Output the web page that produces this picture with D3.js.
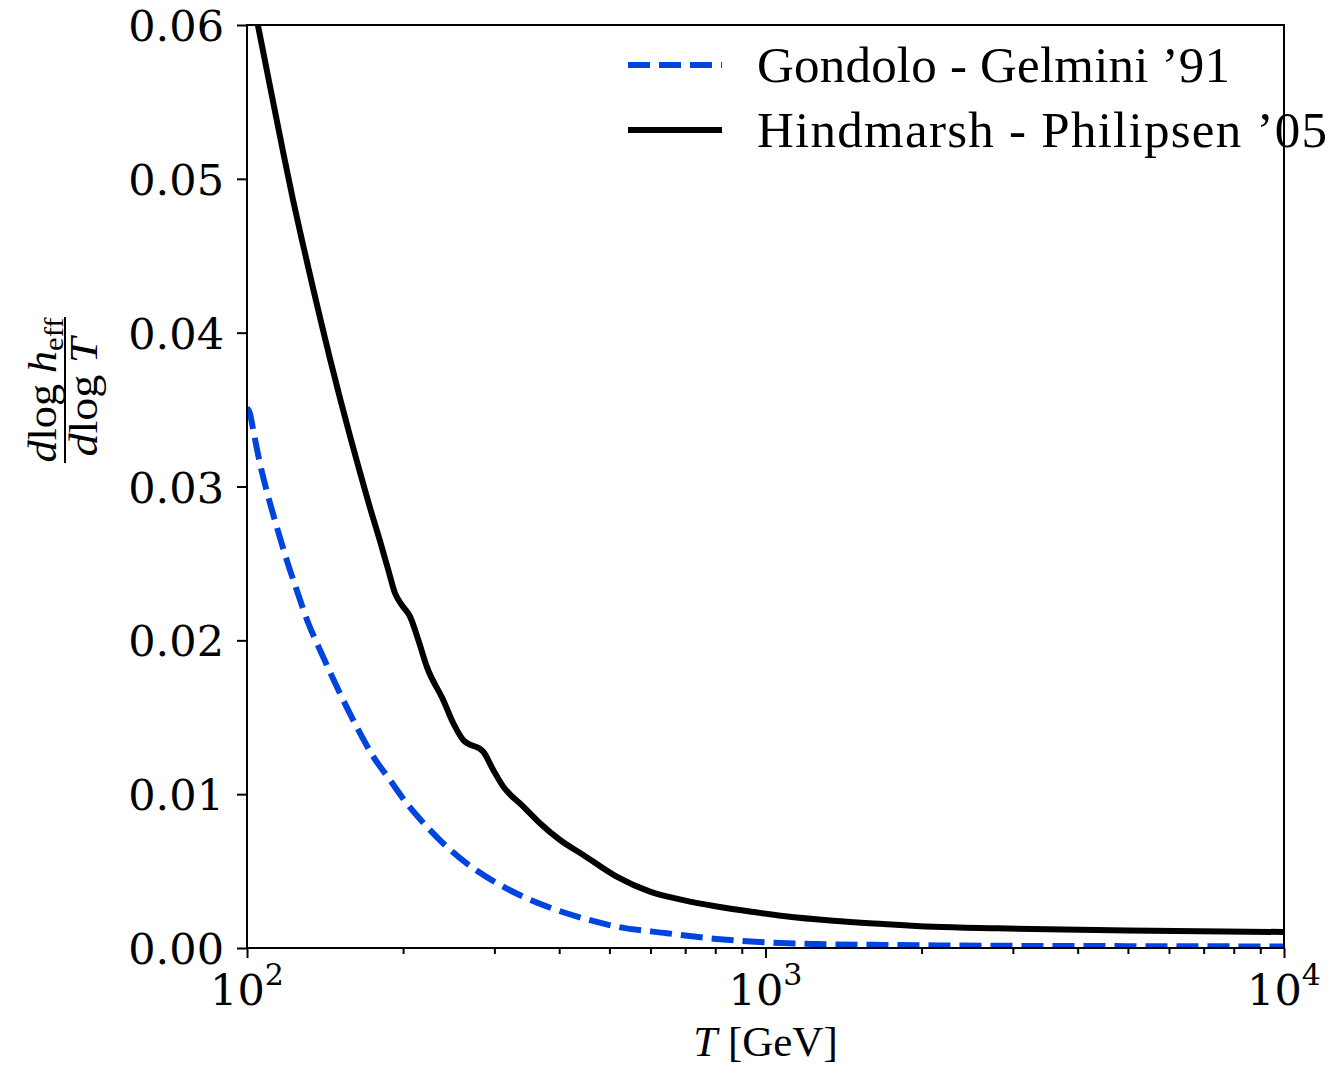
<!DOCTYPE html>
<html>
<head>
<meta charset="utf-8">
<script src="https://cdn.jsdelivr.net/npm/d3@7"></script>
<style>
  body { margin: 0; background: #fff; }
  svg { display: block; }
</style>
</head>
<body>
<div id="grafico"></div>
<script>
// Hindmarsh - Philipsen '05 (solid black)
const hindT = [100, 105.1, 112.4, 117.5, 122.8, 128.4, 134.2, 139.4, 144.6, 151.1, 158.0, 163.9, 171.4, 180.5, 187.3, 193.0, 198.8, 206.3, 214.0, 222.2, 239.0, 250.0, 261.3, 285.6, 298.5, 312.1, 341.2, 367.3, 401.6, 445.3, 516.4, 598.8, 694.2, 805.2, 933.4, 1082, 1351, 1687, 2107, 2792, 5000, 10000];
const hindV = [0.0636, 0.05989, 0.05493, 0.05168, 0.04856, 0.04564, 0.04284, 0.04050, 0.03829, 0.03575, 0.03328, 0.03133, 0.02899, 0.02646, 0.02457, 0.02306, 0.0223, 0.02154, 0.02002, 0.01829, 0.01612, 0.01461, 0.01352, 0.01276, 0.01157, 0.01049, 0.00919, 0.00811, 0.00702, 0.00605, 0.00464, 0.00366, 0.00311, 0.0027, 0.00237, 0.00208, 0.00177, 0.00156, 0.00138, 0.00128, 0.00114, 0.00104];

// Gondolo - Gelmini '91 (dashed blue)
const gondT = [100, 101.3, 102.8, 105.9, 109.9, 114.1, 119.3, 124.7, 131.3, 138.3, 151.1, 162.7, 175.2, 188.7, 203.2, 222.2, 242.7, 273.3, 307.6, 346.3, 395.7, 445.3, 516.4, 644.9, 805.2, 1005, 1255, 1687, 2627, 5000, 10000];
const gondV = [0.0351, 0.03476, 0.03367, 0.03151, 0.02934, 0.02739, 0.02522, 0.02327, 0.02111, 0.01937, 0.01656, 0.01439, 0.01244, 0.01092, 0.00941, 0.00789, 0.00659, 0.00518, 0.00410, 0.00323, 0.00247, 0.00193, 0.00139, 0.00096, 0.00059, 0.00037, 0.00026, 0.0002, 0.00015, 0.00012, 0.0001];

const yTicks = [0, 0.01, 0.02, 0.03, 0.04, 0.05, 0.06];
const xTicks = [100, 1000, 10000];
const xMinor = [200, 300, 400, 500, 600, 700, 800, 900, 2000, 3000, 4000, 5000, 6000, 7000, 8000, 9000];
const legendNames = ["Gondolo - Gelmini \u201991", "Hindmarsh - Philipsen \u201905"];

const svgWidth = 1337, svgHeight = 1068;
const margin = { top: 25, right: 53, bottom: 120, left: 247 };
const width = svgWidth - margin.left - margin.right;
const height = svgHeight - margin.top - margin.bottom;

const svg = d3.select("#grafico")
    .append("svg")
    .attr("width", svgWidth)
    .attr("height", svgHeight);

const g = svg.append("g")
    .attr("transform", `translate(${margin.left}, ${margin.top})`);

const x = d3.scaleLog().domain([100, 10000]).range([0, width]);
const y = d3.scaleLinear().domain([0, 0.06]).range([height, 0]);

g.append("clipPath").attr("id", "area")
    .append("rect").attr("width", width).attr("height", height);

// Curvas
const linea = d3.line()
    .x(d => x(d[0]))
    .y(d => y(d[1]))
    .curve(d3.curveMonotoneX);

g.append("path")
    .datum(gondT.map((t, i) => [t, gondV[i]]))
    .attr("clip-path", "url(#area)")
    .attr("d", linea)
    .attr("fill", "none")
    .attr("stroke", "#0044e0")
    .attr("stroke-width", 6)
    .attr("stroke-dasharray", "22,9");

g.append("path")
    .datum(hindT.map((t, i) => [t, hindV[i]]))
    .attr("clip-path", "url(#area)")
    .attr("d", linea)
    .attr("fill", "none")
    .attr("stroke", "#000")
    .attr("stroke-width", 6);

// Ejes
const ejeY = g.append("g")
    .call(d3.axisLeft(y).tickValues(yTicks).tickSize(10).tickPadding(13).tickFormat(d3.format(".2f")));
ejeY.selectAll("text").attr("dy", null).attr("y", 15.5);

g.append("g")
    .attr("transform", `translate(0, ${height})`)
    .call(d3.axisBottom(x).tickValues(xTicks).tickSize(10).tickFormat(""));

g.append("g")
    .attr("transform", `translate(0, ${height})`)
    .call(d3.axisBottom(x).tickValues(xMinor).tickSize(6).tickFormat(""));

g.selectAll(".domain").remove();
g.selectAll(".tick line").attr("stroke", "#000").attr("stroke-width", 2);
ejeY.selectAll("text")
    .style("font-family", "DejaVu Serif")
    .style("font-size", "43px")
    .attr("fill", "#000");

// Etiquetas 10^n
const etiquetasX = g.append("g").attr("transform", `translate(0, ${height})`);
xTicks.forEach(v => {
    const t = etiquetasX.append("text")
        .attr("x", x(v))
        .attr("y", 57)
        .attr("text-anchor", "middle")
        .style("font-family", "DejaVu Serif")
        .style("font-size", "43px")
        .attr("fill", "#000");
    t.append("tspan").text("10");
    t.append("tspan").attr("dy", -20).style("font-size", "30px").text(Math.round(Math.log10(v)));
});

// Marco
g.append("rect")
    .attr("width", width).attr("height", height)
    .attr("fill", "none").attr("stroke", "#000").attr("stroke-width", 2);

// Etiqueta eje X
const lx = svg.append("text")
    .attr("x", margin.left + x(1000))
    .attr("y", 1056)
    .attr("text-anchor", "middle")
    .style("font-family", "Liberation Serif")
    .style("font-size", "43px")
    .attr("fill", "#000");
lx.append("tspan").style("font-style", "italic").text("T");
lx.append("tspan").text(" [GeV]");

// Etiqueta eje Y (fraccion)
const ly = svg.append("g")
    .attr("transform", "translate(65, 390) rotate(-90)")
    .style("font-family", "Liberation Serif")
    .attr("fill", "#000");

const num = ly.append("text").attr("x", 0).attr("y", -9).attr("text-anchor", "middle")
    .attr("textLength", 145).attr("lengthAdjust", "spacingAndGlyphs")
    .style("font-size", "39px");
num.append("tspan").style("font-style", "italic").text("d");
num.append("tspan").text("log ");
num.append("tspan").style("font-style", "italic").text("h");
num.append("tspan").attr("dy", 7).style("font-size", "27px").text("eff");

ly.append("line").attr("x1", -73).attr("x2", 73).attr("y1", 0).attr("y2", 0)
    .attr("stroke", "#000").attr("stroke-width", 2);

const den = ly.append("text").attr("x", -7).attr("y", 32).attr("text-anchor", "middle")
    .attr("textLength", 119).attr("lengthAdjust", "spacingAndGlyphs")
    .style("font-size", "39px");
den.append("tspan").style("font-style", "italic").text("d");
den.append("tspan").text("log ");
den.append("tspan").style("font-style", "italic").text("T");

// Leyenda
const leyenda = svg.append("g");
const estilos = [
    { color: "#0044e0", dash: "22,9", largo: 473 },
    { color: "#000", dash: null, largo: 570 }
];
legendNames.forEach((nombre, i) => {
    const yy = 65 + i * 65;
    leyenda.append("line")
        .attr("x1", 628).attr("x2", 722).attr("y1", yy).attr("y2", yy)
        .attr("stroke", estilos[i].color)
        .attr("stroke-width", 6)
        .attr("stroke-dasharray", estilos[i].dash);
    leyenda.append("text")
        .attr("x", 757).attr("y", yy + 17)
        .attr("textLength", estilos[i].largo)
        .attr("lengthAdjust", "spacing")
        .style("font-family", "Liberation Serif")
        .style("font-size", "51px")
        .attr("fill", "#000")
        .text(nombre);
});
</script>
</body>
</html>
